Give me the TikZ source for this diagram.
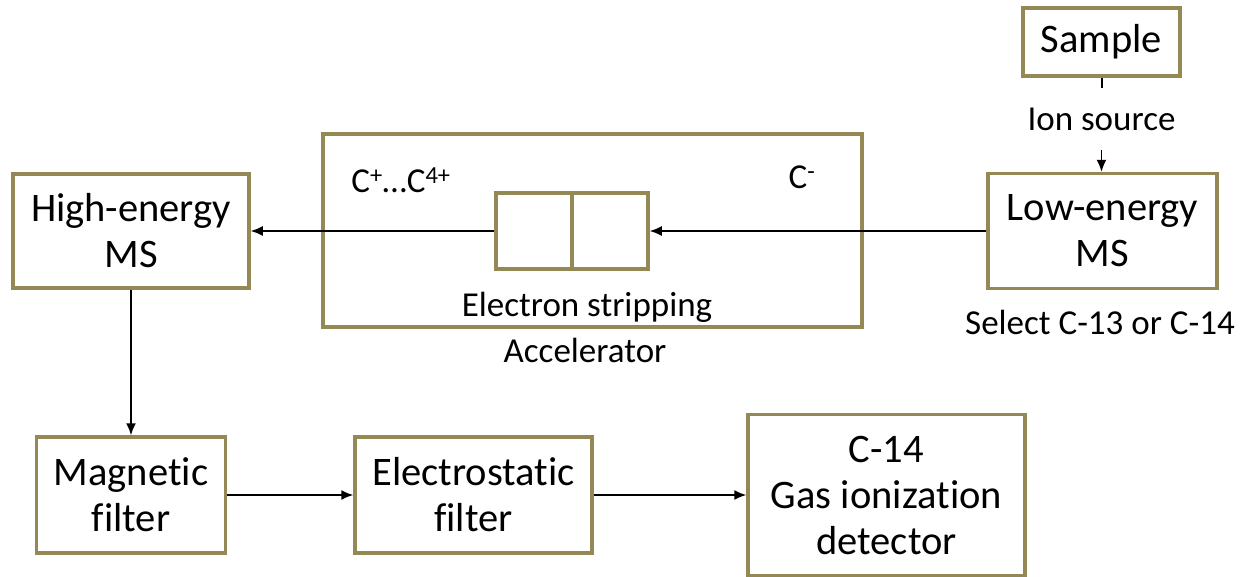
\documentclass[tikz,border=0pt]{standalone}
\usepackage{fontspec}
\setmainfont{Carlito}[Ligatures=NoCommon]
\usepackage{tikz}
\usetikzlibrary{positioning,arrows.meta,calc}
\definecolor{olivebox}{RGB}{148,137,84}

\begin{document}
\begin{tikzpicture}[x=1pt,y=-1pt,
    blk/.style={draw=olivebox,line width=3.5pt,fill=white,align=center,inner sep=0pt,
      font=\fontsize{40.5}{46}\selectfont},
    flow/.style={line width=1.5pt,-{Latex[length=12pt,width=10pt]}},
    lbl/.style={font=\fontsize{35}{40}\selectfont,inner sep=0pt}]
  \useasboundingbox (0,0) rectangle (1243,576);
  % top right: sample and low-energy MS
  \node[blk,minimum width=157,minimum height=68] (S) at (1101.5,42) {Sample};
  \node[blk,minimum width=229,minimum height=115] (L) at (1102.5,231) {Low-energy\\MS};
  \coordinate (S1) at (1101.5,88);
  \coordinate (S2) at (1101.5,150);
  \node[lbl] (Ion) at (1101.5,119) {Ion source};
  \draw[line width=2pt] (S.south) -- (S1);
  \draw[flow] (S2) -- (S2 |- L.north);
  \node[lbl] (Sel) at (1100,322) {Select C-13 or C-14};
  % accelerator
  \node[blk,minimum width=539,minimum height=193] (Acc) at (592.5,230.5) {};
  \node[blk,minimum width=152,minimum height=76] (Str) at (572,231) {};
  \draw[draw=olivebox,line width=3.5pt] (Str.north) -- (Str.south);
  \node[lbl] (Cp) at (401,180) {C\textsuperscript{+}…C\textsuperscript{4+}};
  \node[lbl] (Cm) at (802,177) {C\textsuperscript{-}};
  \node[lbl] (Es) at (587,307) {Electron stripping};
  \node[lbl] (Ac) at (585,350) {Accelerator};
  % left column and bottom row
  \node[blk,minimum width=236,minimum height=114] (H) at (131,231) {High-energy\\MS};
  \node[blk,minimum width=189,minimum height=116] (M) at (131,495) {Magnetic\\filter};
  \node[blk,minimum width=237,minimum height=116] (E) at (473.5,495) {Electrostatic\\filter};
  \node[blk,minimum width=277,minimum height=161] (D) at (886.5,495) {C-14\\Gas ionization\\detector};
  \draw[flow] (L.west) -- (Str.east);
  \draw[flow] (Str.west) -- (H.east);
  \draw[flow] (H.south) -- (M.north);
  \draw[flow] (M.east) -- (E.west);
  \draw[flow] (E.east) -- (D.west);
\end{tikzpicture}
\end{document}
